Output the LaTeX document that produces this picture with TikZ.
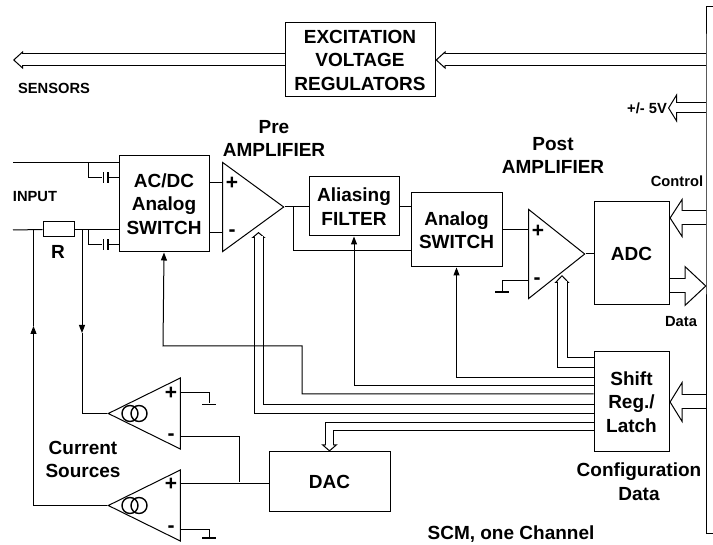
\documentclass[tikz,border=0pt]{standalone}
\usepackage{fontspec}
\setmainfont{Liberation Sans}
\usetikzlibrary{shapes.geometric, arrows.meta, backgrounds}

\begin{document}
\begin{tikzpicture}[
    x=1pt, y=-1pt, line width=1pt,
    block/.style={rectangle, draw, inner sep=0pt, align=center, font=\bfseries\fontsize{19}{23.5}\selectfont},
    tag/.style={inner sep=0pt, align=center, font=\bfseries\fontsize{19}{23.5}\selectfont},
    smalltag/.style={inner sep=0pt, align=center, font=\bfseries\fontsize{14.7}{18}\selectfont},
    sign/.style={inner sep=0pt, font=\bfseries\fontsize{21}{21}\selectfont},
    amp/.style={isosceles triangle, isosceles triangle stretches, draw, inner sep=0pt, anchor=apex, minimum height=#1},
    ring/.style={circle, draw, line width=1.4pt, inner sep=0pt, minimum size=16pt},
    plate/.style={rectangle, fill, inner sep=0pt, minimum width=1.4pt, minimum height=11pt},
    earth/.style={rectangle, fill, inner sep=0pt, minimum width=14pt, minimum height=1.4pt},
    arr/.style={-{Triangle[length=8pt, width=6pt]}},
    bus/.style n args={3}{draw=white, line width={#1pt-1pt}, shorten >={#2pt-1.5pt},
        preaction={draw=black, line width={#1pt+1pt}, shorten >=0pt,
            -{Triangle[fill=white, length=#2pt, width=#3pt, line width=1pt]}}},
]
    \useasboundingbox (0,0) rectangle (713,545);

    % Blocks
    \node[block, minimum width=150pt, minimum height=74pt] (excite) at (360,60) {EXCITATION\\VOLTAGE\\REGULATORS};
    \node[block, minimum width=90pt, minimum height=96pt] (acdc) at (164,204) {AC/DC\\Analog\\SWITCH};
    \node[block, minimum width=90pt, minimum height=59pt] (filter) at (354,206.5) {Aliasing\\FILTER};
    \node[block, minimum width=91pt, minimum height=74pt] (switch) at (456.5,230) {Analog\\SWITCH};
    \node[block, minimum width=75pt, minimum height=103pt] (adc) at (631.5,253.5) {ADC};
    \node[block, minimum width=75pt, minimum height=100pt] (shift) at (631.5,402) {Shift\\Reg./\\Latch};
    \node[block, minimum width=121pt, minimum height=60pt] (dac) at (329.5,482) {DAC};

    % Amplifiers
    \node[amp=61pt, minimum width=89pt] (pre) at (285,207) {};
    \node[amp=56pt, minimum width=89pt] (post) at (586,254) {};
    \node[amp=72pt, minimum width=71pt, shape border rotate=180] (srcA) at (107,413.5) {};
    \node[amp=72pt, minimum width=71pt, shape border rotate=180] (srcB) at (107,505.5) {};
    \node[sign] (preplus) at (232,183) {+};
    \node[sign] (preminus) at (232,233) {-};
    \node[sign] (postplus) at (538,231) {+};
    \node[sign] (postminus) at (537,281) {-};
    \node[sign] (srcAplus) at (171,393) {+};
    \node[sign] (srcAminus) at (171,437) {-};
    \node[sign] (srcBplus) at (171,484) {+};
    \node[sign] (srcBminus) at (171,529) {-};
    \node[ring] (ringAa) at (130,413.5) {};
    \node[ring] (ringAb) at (139,413.5) {};
    \node[ring] (ringBa) at (130,505.5) {};
    \node[ring] (ringBb) at (139,505.5) {};

    % Small parts
    \node[rectangle, draw, inner sep=0pt, minimum width=31pt, minimum height=15pt] (res) at (58.5,229.5) {};
    \node[plate] (capAa) at (103.5,178) {};
    \node[plate] (capAb) at (108,178) {};
    \node[plate] (capBa) at (103.5,245) {};
    \node[plate] (capBb) at (108,245) {};
    \node[earth] (gndPost) at (502,292) {};
    \node[earth] (gndA) at (209,404.5) {};
    \node[earth] (gndB) at (209,538) {};

    % Labels
    \node[smalltag] (sensors) at (54,88) {SENSORS};
    \node[smalltag] (input) at (35,197) {INPUT};
    \node[smalltag] (supply) at (647,108) {+/- 5V};
    \node[smalltag] (control) at (677,181) {Control};
    \node[smalltag] (data) at (681,322) {Data};
    \node[tag] (rlabel) at (58,252) {R};
    \node[tag] (prelabel) at (274,138.5) {Pre\\AMPLIFIER};
    \node[tag] (postlabel) at (553,155.5) {Post\\AMPLIFIER};
    \node[tag] (sources) at (83,459.5) {Current\\Sources};
    \node[tag] (config) at (639,481.5) {Configuration\\Data};
    \node[tag] (scm) at (511,534) {SCM, one Channel};

    % Rail and free ends
    \coordinate (railtop) at (713,7);
    \coordinate (railend) at (713,533);
    \coordinate (railexcite) at (706,60);
    \coordinate (railsupply) at (706,108);
    \coordinate (railcontrol) at (706,218);
    \coordinate (raildata) at (706.5,286);
    \coordinate (railconfig) at (706,402);
    \coordinate (sensorend) at (13,60);
    \coordinate (supplyend) at (668,108);
    \coordinate (inA) at (13,163);
    \coordinate (inB) at (13,230);
    \coordinate (pretip) at (258.5,232);
    \coordinate (preturn) at (594,409.5);
    \coordinate (posttip) at (562,275);
    \coordinate (postturn) at (594,362.5);
    \coordinate (dacturn) at (594,427);

    % Hollow buses
    \begin{scope}[on background layer]
        \draw[bus={12}{10}{18}] (excite.west) -- (sensorend);
        \draw[bus={12}{10}{18}] (railexcite) -- (excite.east);
        \draw[bus={10}{9}{29}] (railsupply) -- (supplyend);
        \draw[bus={14}{13}{40}] (railcontrol) -- (adc.east |- railcontrol);
        \draw[bus={14}{22}{41}] (adc.east |- raildata) -- (raildata);
        \draw[bus={14}{13}{42}] (railconfig) -- (shift.east);
        \draw[bus={9}{6}{14}] (preturn) -| (pretip);
        \draw[bus={10}{8}{15}] (postturn) -| (posttip);
        \draw[bus={8}{7}{16}] (dacturn) -| (dac.north);
    \end{scope}

    \draw (railtop) -| (railexcite) -- (railend -| railexcite) -- (railend);

    % Signal path
    \draw (inA) -- (acdc.west |- inA);
    \draw (inB) -- (res.west);
    \draw (res.east) -- (acdc.west |- res);
    \draw (88,163) |- (capAa);
    \draw (88,230) |- (capBa);
    \draw (capAb) -- (acdc.west |- capAb);
    \draw (capBb) -- (acdc.west |- capBb);
    \draw (acdc.east |- preplus) -- (pre.lower side |- preplus);
    \draw (acdc.east |- preminus) -- (pre.lower side |- preminus);
    \draw (pre.apex) -- (filter.west |- pre.apex);
    \draw (293.5,206.5) |- (switch.west |- 0,251);
    \draw (filter.east) -- (switch.west |- filter);
    \draw (switch.east) -- (post.lower side |- switch);
    \draw (post.lower side |- postminus) -| (gndPost);
    \draw (post.apex) -- (adc.west |- post.apex);

    % Control lines
    \draw[arr] (shift.west |- 0,394) -- (302,394) |- (163,346) -- (acdc.south);
    \draw[arr] (shift.west |- 0,386) -| (filter.south);
    \draw[arr] (shift.west |- 0,378) -| (switch.south);

    % Current sources
    \draw (srcA.lower side |- srcAplus) -| (gndA);
    \draw (srcB.lower side |- srcBminus) -| (gndB);
    \draw (srcB.lower side |- srcBplus) -- (dac.west |- srcBplus);
    \draw (srcA.lower side |- srcAminus) -| (239,482);
    \draw[arr] (82,230) -- (82,333);
    \draw (82,333) |- (srcA.apex);
    \draw[arr] (srcB.apex) -| (33.5,326);
    \draw (33.5,326) -- (33.5,230);
\end{tikzpicture}
\end{document}
